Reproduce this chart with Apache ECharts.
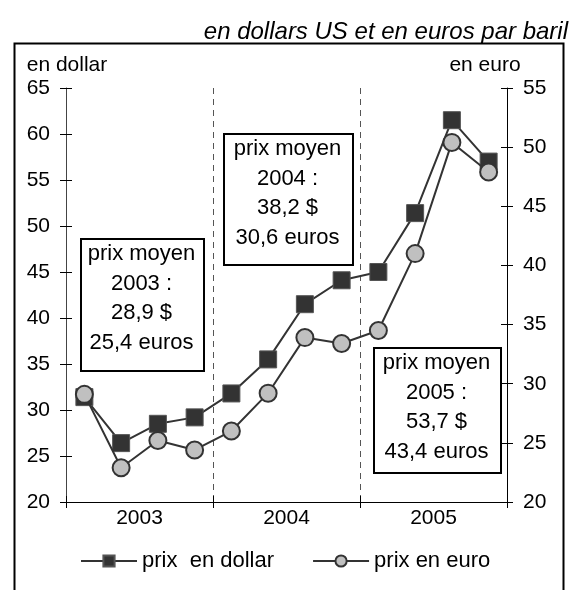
<!DOCTYPE html>
<html>
<head>
<meta charset="utf-8">
<script src="https://cdn.jsdelivr.net/npm/echarts@6/dist/echarts.min.js"></script>
<style>
html,body{margin:0;padding:0;background:#fff;}
#chart{width:571px;height:590px;}
</style>
</head>
<body>
<div id="chart"></div>
<script>
// ---- data ----
const quarters = ['T1 2003','T2 2003','T3 2003','T4 2003','T1 2004','T2 2004','T3 2004','T4 2004','T1 2005','T2 2005','T3 2005','T4 2005'];
const years = ['2003','2004','2005'];
const dollarValues = [31.4, 26.4, 28.5, 29.2, 31.8, 35.5, 41.5, 44.1, 45.0, 51.4, 61.5, 57.0];
const euroValues   = [29.1, 22.9, 25.2, 24.4, 26.0, 29.2, 33.9, 33.4, 34.5, 41.0, 50.4, 47.9];
const leftMin = 20, leftMax = 65, rightMin = 20, rightMax = 55, tickStep = 5;
const seriesNames = ['prix  en dollar', 'prix en euro'];
const leftAxisName = 'en dollar';
const rightAxisName = 'en euro';
const subtitle = 'en dollars US et en euros par baril';
const box2003 = ['prix moyen', '2003 :', '28,9 $', '25,4 euros'];
const box2004 = ['prix moyen', '2004 :', '38,2 $', '30,6 euros'];
const box2005 = ['prix moyen', '2005 :', '53,7 $', '43,4 euros'];

const FONT = 'Liberation Sans, Arial, sans-serif';
const chart = echarts.init(document.getElementById('chart'), null, {renderer: 'canvas'});

function yAxisDef(min, max, pos, inside, labels, lineColor) {
  return {
    type: 'value', min: min, max: max, interval: tickStep, position: pos,
    axisLine: {show: labels, lineStyle: {color: lineColor, width: 1}},
    axisTick: {show: true, inside: inside, length: 6, lineStyle: {color: '#000', width: 1}},
    axisLabel: {show: labels, fontSize: 21, color: '#000', fontFamily: FONT, margin: 16},
    splitLine: {show: false}
  };
}

function boxGraphic(x, y, w, h, lines) {
  return [
    {type: 'rect', left: x, top: y, z: 100,
     shape: {width: w, height: h},
     style: {fill: '#fff', stroke: '#000', lineWidth: 2}},
    {type: 'text', x: x + w / 2, y: y + 1, z: 101,
     style: {text: lines.join('\n'), fill: '#000', font: '22px ' + FONT,
             textAlign: 'center', textVerticalAlign: 'top', lineHeight: 29.7}}
  ];
}

const option = {
  animation: false,
  backgroundColor: '#fff',
  grid: {left: 66, right: 64, top: 88, bottom: 88, containLabel: false},
  xAxis: [
    {type: 'category', data: quarters, boundaryGap: true, show: false},
    {type: 'category', data: years, position: 'bottom', boundaryGap: true,
     axisLine: {show: true, lineStyle: {color: '#000', width: 1}},
     axisTick: {show: true, inside: false, length: 6, lineStyle: {color: '#000'}},
     axisLabel: {fontSize: 21, color: '#000', fontFamily: FONT, margin: 6},
     splitLine: {show: true, showMinLine: false, showMaxLine: false,
                 lineStyle: {color: '#555', type: [6, 5], width: 1}}},
    {type: 'category', data: years, position: 'bottom', boundaryGap: true,
     axisLine: {show: false}, axisLabel: {show: false},
     axisTick: {show: true, inside: true, length: 6, lineStyle: {color: '#000'}},
     splitLine: {show: false}}
  ],
  yAxis: [
    yAxisDef(leftMin, leftMax, 'left', false, true, '#444'),
    yAxisDef(rightMin, rightMax, 'right', false, true, '#000'),
    yAxisDef(leftMin, leftMax, 'left', true, false, '#444'),
    yAxisDef(rightMin, rightMax, 'right', true, false, '#000')
  ],
  legend: {
    left: 80, top: 550, padding: 0, itemWidth: 56, itemHeight: 14, itemGap: 38,
    textStyle: {fontSize: 22, color: '#000', fontFamily: FONT},
    data: seriesNames
  },
  series: [
    {name: seriesNames[0], type: 'line', xAxisIndex: 0, yAxisIndex: 0, data: dollarValues,
     symbol: 'rect', symbolSize: 17,
     lineStyle: {color: '#333', width: 2},
     itemStyle: {color: '#333', borderColor: '#555', borderWidth: 1}, z: 3},
    {name: seriesNames[1], type: 'line', xAxisIndex: 0, yAxisIndex: 1, data: euroValues,
     symbol: 'circle', symbolSize: 17,
     lineStyle: {color: '#333', width: 2},
     itemStyle: {color: '#c0c0c0', borderColor: '#333', borderWidth: 2}, z: 4}
  ],
  graphic: [
    {type: 'rect', left: 12, top: 41, z: 0, silent: true,
     shape: {width: 549, height: 600},
     style: {fill: 'none', stroke: '#000', lineWidth: 2}},
    {type: 'text', x: 568, y: 32, z: 10,
     style: {text: subtitle, fill: '#000', font: 'italic 24px ' + FONT,
             textAlign: 'right', textVerticalAlign: 'middle'}},
    {type: 'text', x: 67, y: 65, z: 10,
     style: {text: leftAxisName, fill: '#000', font: '21px ' + FONT,
             textAlign: 'center', textVerticalAlign: 'middle'}},
    {type: 'text', x: 485, y: 65, z: 10,
     style: {text: rightAxisName, fill: '#000', font: '21px ' + FONT,
             textAlign: 'center', textVerticalAlign: 'middle'}}
  ].concat(boxGraphic(80, 238, 123, 132, box2003))
   .concat(boxGraphic(223, 133, 129, 131, box2004))
   .concat(boxGraphic(373, 347, 127, 125, box2005))
};
chart.setOption(option);
</script>
</body>
</html>
